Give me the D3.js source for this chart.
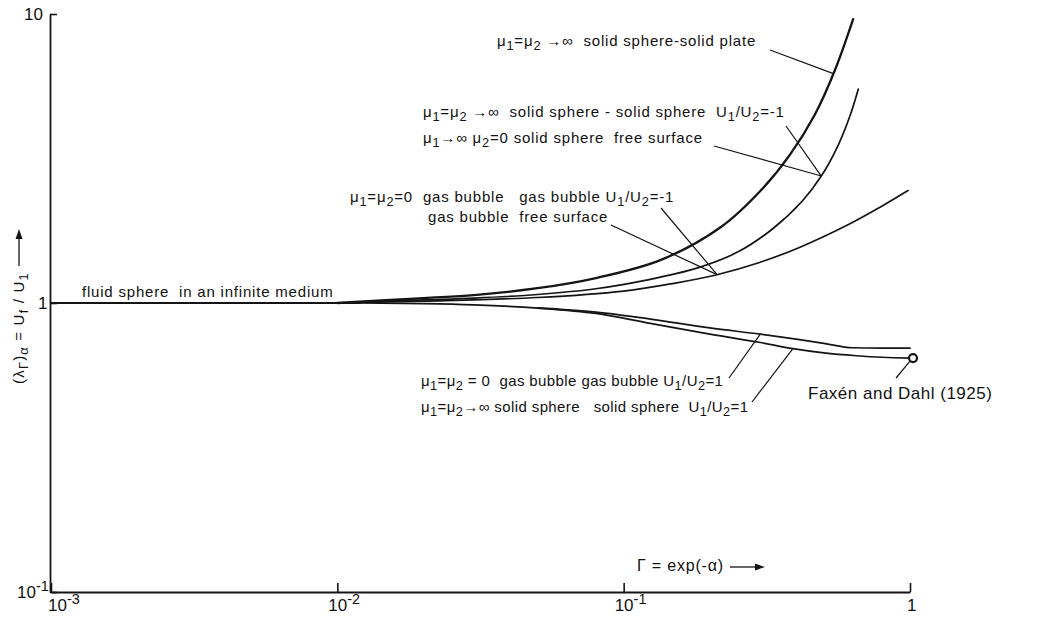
<!DOCTYPE html>
<html><head><meta charset="utf-8">
<script src="https://cdn.jsdelivr.net/npm/d3@7"></script>
<style>
html,body{margin:0;padding:0;background:#fff;}
svg text{font-family:"Liberation Sans",Arial,sans-serif;fill:#111;white-space:pre;}
</style></head>
<body><svg id="chart" width="1039" height="618"></svg>
<script>
// Drag ratio of a sphere near a second body, plotted against Γ = exp(-α)
const xTicks = [1e-3, 1e-2, 1e-1, 1];
const xTickLabels = ["10^{-3}", "10^{-2}", "10^{-1}", "1"];
const yTicks = [0.1, 1, 10];
const yTickLabels = ["10^{-1}", "1", "10"];

// [Γ, λ] pairs for each curve
const fluidSphere = [[0.001, 1], [0.012, 1]];
const solidPlate = [[0.01, 1.0], [0.02, 1.04], [0.03, 1.065], [0.05, 1.125], [0.08, 1.22], [0.135, 1.41],
  [0.22, 1.84], [0.3, 2.44], [0.38, 3.25], [0.466, 4.5], [0.547, 6.4], [0.633, 9.6]];
const solidSphereOpposed = [[0.01, 1.0], [0.02, 1.025], [0.03, 1.04], [0.05, 1.07], [0.08, 1.12], [0.12, 1.2],
  [0.18, 1.32], [0.25, 1.5], [0.33, 1.8], [0.42, 2.25], [0.49, 2.75], [0.56, 3.5], [0.62, 4.5], [0.66, 5.5]];
const gasBubbleOpposed = [[0.01, 1.0], [0.02, 1.015], [0.05, 1.045], [0.1, 1.1], [0.15, 1.17], [0.21, 1.25],
  [0.3, 1.384], [0.413, 1.56], [0.617, 1.88], [0.786, 2.145], [0.984, 2.45]];
const gasBubbleTandem = [[0.05, 0.962], [0.08, 0.93], [0.124, 0.88], [0.2, 0.82], [0.3, 0.78], [0.4, 0.75],
  [0.5, 0.725], [0.63, 0.70], [0.8, 0.698], [1, 0.698]];
const solidSphereTandem = [[0.012, 1.0], [0.02, 0.995], [0.03, 0.985], [0.05, 0.96], [0.08, 0.92], [0.124, 0.85],
  [0.2, 0.78], [0.3, 0.73], [0.39, 0.695], [0.5, 0.672], [0.65, 0.657], [0.8, 0.649], [1, 0.645]];
const faxenDahl = [1, 0.645];

const svg = d3.select("#chart");
const x = d3.scaleLog().domain([1e-3, 1]).range([51, 910]);
const y = d3.scaleLog().domain([0.1, 10]).range([592, 14]);

// small markup: _x or _{..} subscript, ^{..} superscript
function rich(sel, str, sub = 4, sup = -6) {
  const re = /([_^])(\{[^}]*\}|.)/g;
  const parts = [];
  let last = 0, m;
  while ((m = re.exec(str))) {
    if (m.index > last) parts.push([str.slice(last, m.index), 0]);
    let t = m[2];
    if (t[0] === "{") t = t.slice(1, -1);
    parts.push([t, m[1] === "_" ? 1 : -1]);
    last = re.lastIndex;
  }
  if (last < str.length) parts.push([str.slice(last), 0]);
  let cur = 0;
  parts.forEach(([t, s]) => {
    const target = s === 1 ? sub : s === -1 ? sup : 0;
    const ts = sel.append("tspan").text(t).attr("dy", target - cur);
    if (s) ts.attr("font-size", "0.85em");
    cur = target;
  });
}

// value of a series at Γ, interpolated on the log-log plane
function at(series, g) {
  for (let i = 1; i < series.length; i++) {
    const [g0, l0] = series[i - 1], [g1, l1] = series[i];
    if (g <= g1) {
      const t = (Math.log(g) - Math.log(g0)) / (Math.log(g1) - Math.log(g0));
      return Math.exp(Math.log(l0) + t * (Math.log(l1) - Math.log(l0)));
    }
  }
  return series[series.length - 1][1];
}

// axes
const ink = "#141414";
const xAxis = d3.axisBottom(x).tickValues(xTicks).tickSizeInner(-9).tickSizeOuter(0).tickFormat("");
const gx = svg.append("g").attr("transform", "translate(0,592)").call(xAxis);
const yAxis = d3.axisLeft(y).tickValues(yTicks).tickSizeInner(-7).tickSizeOuter(0).tickFormat("");
const gy = svg.append("g").attr("transform", "translate(50,0)").call(yAxis);
[gx, gy].forEach(g => {
  g.select(".domain").attr("stroke", ink).attr("stroke-width", 1.8);
  g.selectAll(".tick line").attr("stroke", ink).attr("stroke-width", 1.6);
});

// tick labels
const tickFont = 17;
xTicks.forEach((v, i) => {
  const t = svg.append("text").attr("font-size", tickFont)
    .attr("x", x(v) + (i === 0 ? -3 : i === 3 ? -3 : -9)).attr("y", 611);
  rich(t, xTickLabels[i], 4, -7);
});
yTicks.forEach((v, i) => {
  const t = svg.append("text").attr("font-size", tickFont)
    .attr("x", i === 0 ? 17 : i === 1 ? 38 : 24).attr("y", y(v) + 6);
  rich(t, yTickLabels[i], 4, -7);
});

// axis titles
svg.append("text").attr("font-size", 15).attr("letter-spacing", 1.2)
  .attr("transform", "translate(24,384) rotate(-90)")
  .call(t => rich(t, "(λ_Γ)_α = U_f / U_1", 4, -6));
svg.append("line").attr("x1", 19).attr("x2", 19).attr("y1", 266).attr("y2", 236)
  .attr("stroke", ink).attr("stroke-width", 1.3);
svg.append("path").attr("d", "M19,229 L15.5,239 L22.5,239 Z").attr("fill", ink);

svg.append("text").attr("font-size", 16).attr("letter-spacing", 0.8).attr("x", 637).attr("y", 571).text("Γ = exp(-α)");
svg.append("line").attr("x1", 730).attr("x2", 757).attr("y1", 567).attr("y2", 567)
  .attr("stroke", ink).attr("stroke-width", 1.3);
svg.append("path").attr("d", "M765,567 L755,563.5 L755,570.5 Z").attr("fill", ink);

// curves
const smooth = d3.line().x(d => x(d[0])).y(d => y(d[1])).curve(d3.curveCatmullRom.alpha(0.5));
const mono = d3.line().x(d => x(d[0])).y(d => y(d[1])).curve(d3.curveMonotoneX);
const curves = [
  [fluidSphere, 2.0, mono], [solidPlate, 2.3, smooth], [solidSphereOpposed, 1.7, smooth],
  [gasBubbleOpposed, 1.7, smooth], [gasBubbleTandem, 1.7, mono], [solidSphereTandem, 1.7, mono]
];
svg.append("g").selectAll("path").data(curves).join("path")
  .attr("d", d => d[2](d[0])).attr("fill", "none").attr("stroke", ink)
  .attr("stroke-width", d => d[1]).attr("stroke-linecap", "round");

svg.append("circle").attr("cx", x(faxenDahl[0]) + 3).attr("cy", y(faxenDahl[1]))
  .attr("r", 4).attr("fill", "#fff").attr("stroke", ink).attr("stroke-width", 2.2);

// labels and leader lines
const labels = [
  { text: "μ_1=μ_2 →∞  solid sphere-solid plate", x: 497, y: 46, from: [770, 50], to: [solidPlate, 0.54] },
  { text: "μ_1=μ_2 →∞  solid sphere - solid sphere  U_1/U_2=-1", x: 423, y: 117, from: [786, 126], to: [solidSphereOpposed, 0.49] },
  { text: "μ_1→∞ μ_2=0 solid sphere  free surface", x: 423, y: 143, from: [714, 146], to: [solidSphereOpposed, 0.49] },
  { text: "μ_1=μ_2=0  gas bubble   gas bubble U_1/U_2=-1", x: 350, y: 202, from: [661, 208], to: [gasBubbleOpposed, 0.212] },
  { text: "gas bubble  free surface", x: 428, y: 222, from: [611, 225], to: [gasBubbleOpposed, 0.212] },
  { text: "fluid sphere  in an infinite medium", x: 82, y: 297 },
  { text: "μ_1=μ_2 = 0  gas bubble gas bubble U_1/U_2=1", x: 421, y: 386, ls: 0.4, from: [729, 378], to: [gasBubbleTandem, 0.30] },
  { text: "μ_1=μ_2→∞ solid sphere   solid sphere  U_1/U_2=1", x: 421, y: 412, ls: 0.4, from: [752, 402], to: [solidSphereTandem, 0.39] },
  { text: "Faxén and Dahl (1925)", x: 808, y: 399, size: 17, ls: 0.5, from: [896, 378], to: null }
];
labels.forEach(l => {
  const t = svg.append("text").attr("font-size", l.size || 15)
    .attr("letter-spacing", l.ls !== undefined ? l.ls : 0.8)
    .attr("x", l.x).attr("y", l.y);
  rich(t, l.text, 4, -6);
  if (l.from) {
    let tx, ty;
    if (l.to) { tx = x(l.to[1]); ty = y(at(l.to[0], l.to[1])); }
    else { tx = x(faxenDahl[0]); ty = y(faxenDahl[1]) + 3; }
    svg.append("line").attr("x1", l.from[0]).attr("y1", l.from[1]).attr("x2", tx).attr("y2", ty)
      .attr("stroke", ink).attr("stroke-width", 1.2);
  }
});
</script></body></html>
